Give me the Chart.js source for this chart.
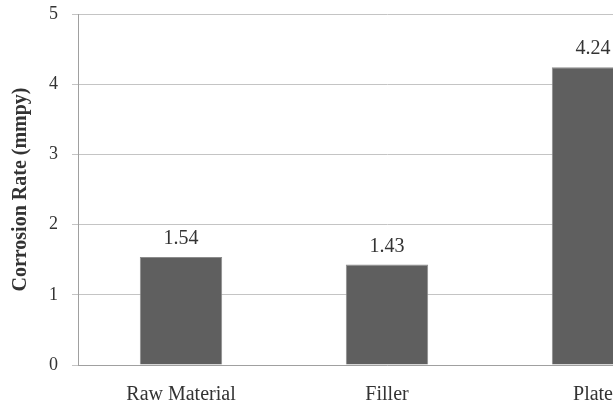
<!DOCTYPE html>
<html>
<head>
<meta charset="utf-8">
<script src="https://cdn.jsdelivr.net/npm/chart.js@4"></script>
<style>
  html, body { margin: 0; padding: 0; background: #fff; overflow: hidden; }
  #wrap { width: 720px; height: 404px; }
</style>
</head>
<body>
<div id="wrap"><canvas id="rateChart"></canvas></div>
<script>
const categories = ["Raw Material", "Filler", "Plate"];
const corrosionRates = [1.54, 1.43, 4.24];
const yTicks = [0, 1, 2, 3, 4, 5];

const serif = "'Liberation Serif', 'Times New Roman', serif";

// draws the value above each bar
const valueLabels = {
    id: "valueLabels",
    afterDatasetsDraw(chart) {
        const ctx = chart.ctx;
        const meta = chart.getDatasetMeta(0);
        ctx.save();
        ctx.font = "20px " + serif;
        ctx.fillStyle = "#333";
        ctx.textAlign = "center";
        ctx.textBaseline = "alphabetic";
        meta.data.forEach((bar, i) => {
            ctx.fillText(corrosionRates[i].toFixed(2), bar.x, bar.y - 13);
        });
        ctx.restore();
    }
};

new Chart(document.getElementById("rateChart"), {
    type: "bar",
    data: {
        labels: categories,
        datasets: [{
            data: corrosionRates,
            backgroundColor: "#5f5f5f",
            borderColor: "#8c8c8c",
            borderWidth: 1,
            categoryPercentage: 1,
            barPercentage: 0.4
        }]
    },
    options: {
        responsive: true,
        maintainAspectRatio: false,
        animation: false,
        layout: { padding: { top: 14, right: 24, left: 0, bottom: 0 } },
        plugins: { legend: { display: false }, tooltip: { enabled: false } },
        scales: {
            x: {
                grid: { display: false },
                border: { color: "#a0a0a0" },
                ticks: { color: "#333", padding: 10, font: { family: serif, size: 20 } },
                afterFit(scale) { scale.height = 39; }
            },
            y: {
                min: 0,
                max: 5,
                afterBuildTicks(scale) { scale.ticks = yTicks.map(v => ({ value: v })); },
                grid: { color: "#c4c4c4", tickLength: 6 },
                border: { color: "#a0a0a0" },
                ticks: { color: "#333", padding: 14, font: { family: serif, size: 18 } },
                title: {
                    display: true,
                    text: "Corrosion Rate (mmpy)",
                    color: "#333",
                    padding: { top: 9, bottom: 0 },
                    font: { family: serif, size: 20, weight: "bold" }
                },
                afterFit(scale) {
                    scale.width = 78;
                    scale.paddingTop = 0;
                    scale.paddingBottom = 0;
                }
            }
        }
    },
    plugins: [valueLabels]
});
</script>
</body>
</html>
